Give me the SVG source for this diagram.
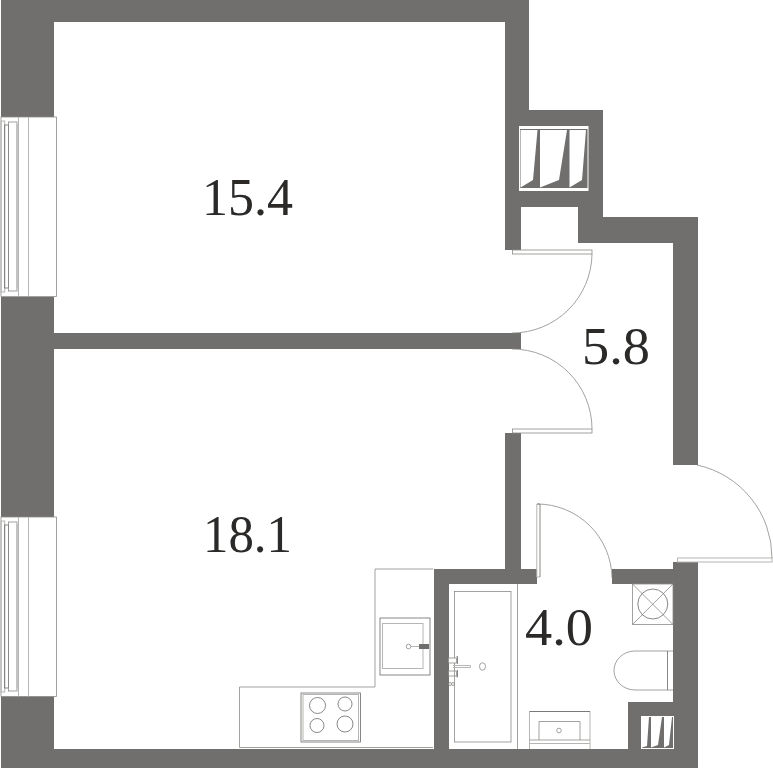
<svg xmlns="http://www.w3.org/2000/svg" width="773" height="768" viewBox="0 0 773 768">
<defs>
<style>
.wall{fill:#706f6e}
.ln{fill:none;stroke:#8a8a88;stroke-width:.8}
.lt{fill:none;stroke:#b5b5b3;stroke-width:1}
.dk{fill:none;stroke:#6a6a68;stroke-width:.8}
.lbl{font-family:"Liberation Serif",serif;font-size:53px;fill:#2b2a29}
.w{fill:#fff}
</style>
<g id="window">
<rect class="w" x="1" y="0" width="55.5" height="179.5"/>
<rect class="ln" x="1" y="0" width="55.5" height="179.5" stroke-width="1"/>
<path class="lt" d="M18.5 0V179.5M28.5 0V179.5"/>
<rect class="lt" x="1" y="4" width="3.7" height="171"/>
<rect class="dk" x="4.7" y="8" width="3.7" height="163"/>
<rect class="ln" x="8.4" y="5" width="8.6" height="169"/>
<rect class="lt" x="17" y="8" width="1.5" height="163"/>
</g>
</defs>
<rect class="w" width="773" height="768"/>
<g id="walls">
<path class="wall" d="M1 0H529V110H603V217H698V465H673V243H578V207H521V250H505V22H54V117H1Z"/>
<path class="wall" d="M1 297H54V333H521V349H54V517H1Z"/>
<path class="wall" d="M1 696H54V749H434V569H505V433H521V569H537V584H449V749H628V702H673V584H612V569H673V562H698V768H1Z"/>
</g>
<use id="window-upper" href="#window" x="0" y="117"/>
<use id="window-lower" href="#window" x="0" y="517"/>
<g id="shaft-large">
<rect class="w" x="519" y="126" width="69.500" height="65"/>
<rect class="wall" x="520" y="129" width="67.500" height="59"/>
<path class="w" d="M520.500 130H537.500L533 180L520.500 187.500ZM540 130H567L559 180L540 187.500ZM569.500 130H586L582 180L569.500 187.500Z"/>
</g>
<g id="shaft-small">
<rect class="w" x="641" y="716" width="33" height="33"/>
<rect class="wall" x="642" y="717" width="31" height="31"/>
<path class="w" d="M642 717H649L647 746L642 747.500ZM651 717H662L658 745L651 747.500ZM664 717H672L669 745L664 747.500Z"/>
</g>
<g id="doors">
<rect class="ln" x="512.500" y="250" width="79.500" height="4"/>
<path class="ln" d="M592 254A80 80 0 0 1 512 333"/>
<rect class="ln" x="512.500" y="429" width="79.500" height="4"/>
<path class="ln" d="M592 429A80 80 0 0 0 512 349"/>
<rect class="lt" x="677.500" y="558" width="94.500" height="4"/>
<path class="ln" d="M772 558A95 95 0 0 0 697 465"/>
<rect class="w" x="537" y="504" width="3" height="73"/>
<path class="lt" d="M536.800 504V577H540"/>
<path class="dk" d="M540 504V577M537 504H540"/>
<path class="ln" d="M537 504A75 75 0 0 1 612 578"/>
</g>
<g id="kitchen">
<path class="ln" d="M433 569H375V687H239.500V747.500H433"/>
<rect class="dk" x="380" y="618" width="50" height="57"/>
<rect class="lt" x="382.500" y="623.500" width="40.500" height="45"/>
<rect class="wall" x="419" y="644" width="10" height="5"/>
<path class="lt" d="M411 646.500H419"/>
<circle class="ln" cx="408.500" cy="646.500" r="2.300"/>
<rect class="w" x="301" y="693" width="59.500" height="49"/>
<rect class="dk" x="301" y="693" width="59.500" height="49"/>
<rect class="lt" x="303" y="694.500" width="55.500" height="46"/>
<circle class="dk" cx="317.500" cy="705.500" r="8"/>
<circle class="dk" cx="345" cy="704" r="7"/>
<circle class="dk" cx="317" cy="725.500" r="7"/>
<circle class="dk" cx="345" cy="724" r="8"/>
</g>
<g id="bath">
<path class="ln" d="M517.500 584V749"/>
<rect class="ln" x="454.500" y="591.500" width="56.500" height="150.500"/>
<ellipse class="ln" cx="482.500" cy="666.500" rx="3" ry="3.800"/>
<path class="lt" d="M453 665.500H470.500V667.500H453"/>
<rect class="w" x="448.500" y="658" width="8" height="5"/>
<rect class="ln" x="448.500" y="658" width="8" height="5"/>
<rect class="ln" x="448.500" y="671" width="8" height="5"/>
<path class="dk" d="M456.500 656.500H457.500V664M456.500 677H457.500V670"/>
<circle class="ln" cx="450" cy="684" r="1.500"/>
<circle class="ln" cx="453" cy="684" r="1.500"/>
</g>
<g id="washbasin">
<path class="lt" d="M529.500 749V711.500H590V749"/>
<path class="dk" d="M529.500 711.500H590"/>
<path class="ln" d="M539 740V721.500H580V740"/>
<path class="ln" d="M529.500 740H590"/>
<path class="lt" d="M529.500 743.500H590"/>
<circle class="ln" cx="559" cy="730.500" r="2.300"/>
</g>
<g id="vent">
<rect class="ln" x="632.500" y="584" width="40.500" height="40.500"/>
<path class="ln" d="M632.500 584L673 624.500M673 584L632.500 624.500"/>
<circle class="dk" cx="652.800" cy="604" r="15"/>
</g>
<g id="toilet">
<path class="ln" d="M673 651H635A21 19.500 0 0 0 635 690H673"/>
<path class="dk" d="M667.500 651V690"/>
</g>
<g id="labels">
<text class="lbl" x="202" y="215" textLength="91" lengthAdjust="spacingAndGlyphs">15.4</text>
<text class="lbl" x="203" y="552" textLength="89" lengthAdjust="spacingAndGlyphs">18.1</text>
<text class="lbl" x="582" y="364" textLength="68" lengthAdjust="spacingAndGlyphs">5.8</text>
<text class="lbl" x="525" y="645" textLength="68" lengthAdjust="spacingAndGlyphs">4.0</text>
</g>
</svg>
